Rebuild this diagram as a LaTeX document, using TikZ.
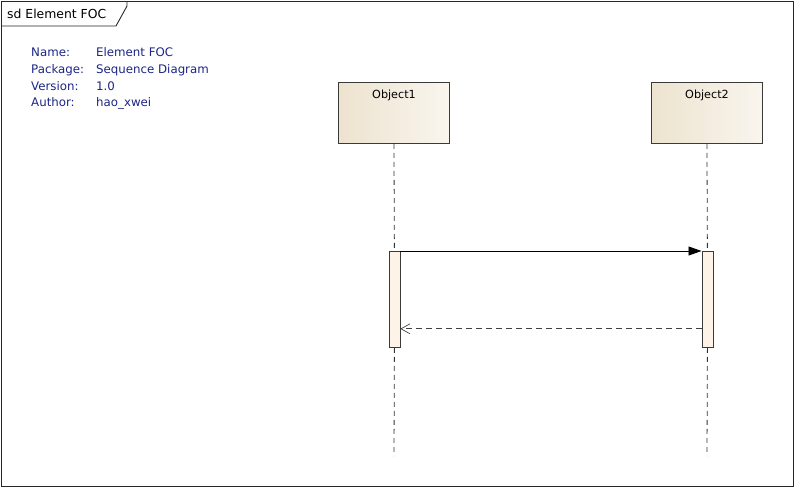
\documentclass[tikz,border=0pt]{standalone}
\usepackage{fontspec}
\setmainfont{DejaVu Sans}
\usetikzlibrary{arrows.meta}
\definecolor{metablue}{HTML}{1C2585}
\definecolor{objleft}{HTML}{EDE3CF}
\definecolor{objright}{HTML}{F9F5EE}
\definecolor{actfill}{HTML}{FDF3E6}
\definecolor{edgegray}{HTML}{3A3A3A}
\tikzset{
  meta/.style={anchor=base west, text=metablue, font=\fontsize{11.8}{13}\selectfont, inner sep=0pt},
  objbox/.style={draw=edgegray, line width=0.9pt, left color=objleft, right color=objright,
     minimum width=111pt, minimum height=61pt, anchor=north west, inner sep=0pt},
  objlabel/.style={anchor=base, font=\fontsize{11.2}{12}\selectfont, inner sep=0pt},
  lifeline/.style={draw=black!80, dash pattern=on 5pt off 4pt, line width=0.8pt},
  actbox/.style={draw=edgegray, line width=0.8pt, fill=actfill, minimum width=11pt,
     minimum height=96pt, anchor=north west, inner sep=0pt},
  callmsg/.style={draw=black, line width=0.9pt, -{Triangle[length=13pt,width=9pt]}},
  retmsg/.style={draw=black!75, line width=0.9pt, dash pattern=on 6pt off 4pt,
     -{Straight Barb[length=9pt,width=10pt,line width=0.7pt]}},
}
\begin{document}
\begin{tikzpicture}[x=1pt,y=-1pt]
\useasboundingbox (0,0) rectangle (795,488);
% outer frame
\node[draw=black!85, line width=1pt, minimum width=792pt, minimum height=485pt,
      anchor=north west, inner sep=0pt] (frame) at (1,1) {};
% tab
\draw[black!85, line width=0.9pt] (1,26) -- (116,26) -- (127,6) -- (127,1);
\node[anchor=base west, inner sep=0pt, font=\fontsize{12.4}{13}\selectfont] (title) at (7,18) {sd Element FOC};
% metadata
\node[meta] (nameL) at (31,56) {Name:};
\node[meta] (nameV) at (96,56) {Element FOC};
\node[meta] (pkgL) at (31,73) {Package:};
\node[meta] (pkgV) at (96,73) {Sequence Diagram};
\node[meta] (verL) at (31,90) {Version:};
\node[meta] (verV) at (96,90) {1.0};
\node[meta] (autL) at (31,106) {Author:};
\node[meta] (autV) at (96,106) {hao\_xwei};
% objects
\node[objbox] (obj1) at (338,82) {};
\node[objlabel] (obj1t) at (394,98) {Object1};
\node[objbox] (obj2) at (651,82) {};
\node[objlabel] (obj2t) at (707,98) {Object2};
% lifeline ends
\coordinate (end1) at (394,456);
\coordinate (end2) at (707,456);
% activations
\node[actbox] (act1) at (388.5,251) {};
\node[actbox] (act2) at (701.5,251) {};
% lifelines
\draw[lifeline] (obj1.south) -- (act1.north);
\draw[lifeline] (act1.south) -- (end1);
\draw[lifeline] (obj2.south) -- (act2.north);
\draw[lifeline] (act2.south) -- (end2);
% messages
\draw[callmsg] (act1.north east) -- (act2.north west);
\draw[retmsg] ([yshift=19pt]act2.south west) -- ([yshift=19pt]act1.south east);
\end{tikzpicture}
\end{document}
